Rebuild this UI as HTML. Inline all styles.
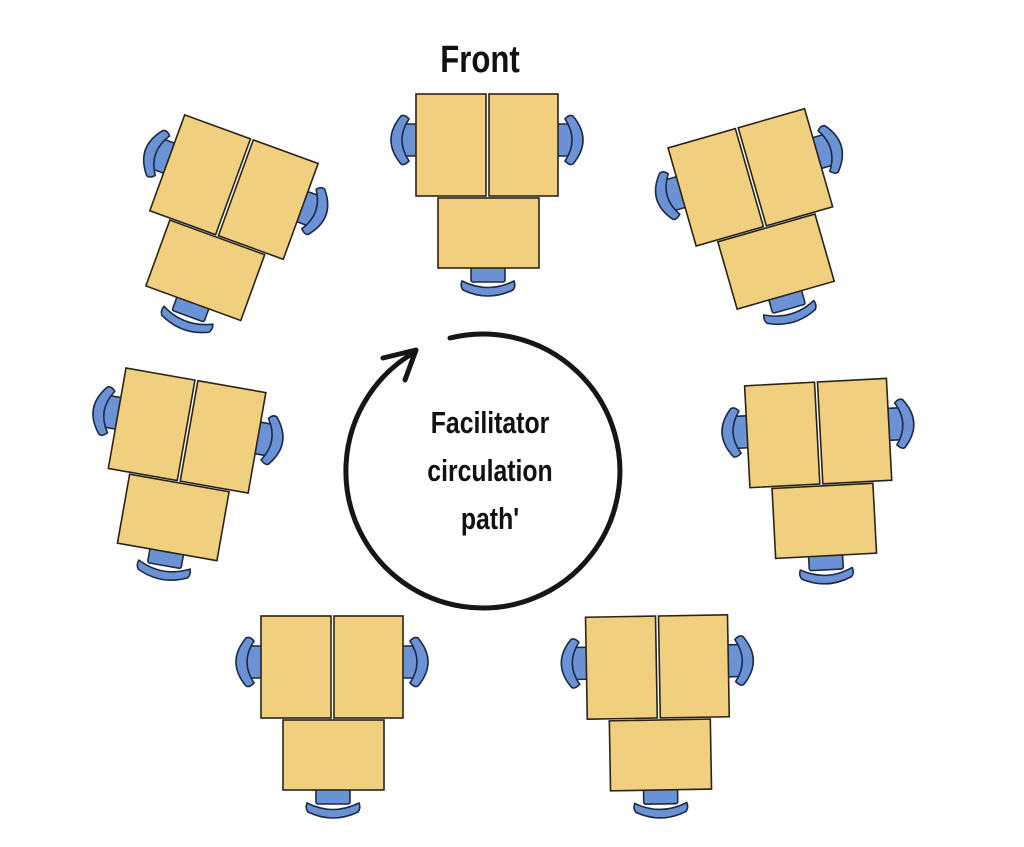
<!DOCTYPE html>
<html><head><meta charset="utf-8"><style>
html,body{margin:0;padding:0;background:#fff;}
svg{display:block;}
text{font-family:"Liberation Sans",sans-serif;font-weight:bold;fill:#111;}
</style></head><body>
<svg width="1024" height="847" viewBox="0 0 1024 847" xmlns="http://www.w3.org/2000/svg">
<defs>
<g id="pod" stroke="#2a2418" stroke-width="1.6">
  <rect x="-88" y="-56" width="19" height="32" rx="2" fill="#6a92d4" stroke="#1c2a48"/>
  <path d="M -86 -64 Q -106 -40 -86 -16 Q -83 -14 -78 -19 Q -92 -40 -78 -61 Q -82 -66 -86 -64 Z" fill="#6a92d4" stroke="#1c2a48"/>
  <rect x="69" y="-56" width="19" height="32" rx="2" fill="#6a92d4" stroke="#1c2a48"/>
  <path d="M 86 -64 Q 106 -40 86 -16 Q 83 -14 78 -19 Q 92 -40 78 -61 Q 82 -66 86 -64 Z" fill="#6a92d4" stroke="#1c2a48"/>
  <rect x="-16" y="86" width="34" height="16" rx="2" fill="#6a92d4" stroke="#1c2a48"/>
  <path d="M -25 101 Q 1 114 27 101 Q 29 106 26 110 Q 1 122 -24 110 Q -27 106 -25 101 Z" fill="#6a92d4" stroke="#1c2a48"/>
  <rect x="-71" y="-86" width="70" height="102" fill="#f0cf7e"/>
  <rect x="2" y="-86" width="69" height="102" fill="#f0cf7e"/>
  <rect x="-49" y="18" width="101" height="70" fill="#f0cf7e"/>
</g>
</defs>
<use href="#pod" transform="translate(487,180)"/>
<use href="#pod" transform="translate(222,220) rotate(20)"/>
<use href="#pod" transform="translate(760,211) rotate(-16)"/>
<use href="#pod" transform="translate(181,465) rotate(10)"/>
<use href="#pod" transform="translate(820,468) rotate(-3)"/>
<use href="#pod" transform="translate(332,702)"/>
<use href="#pod" transform="translate(658,702) rotate(-1)"/>

<text x="480" y="72" text-anchor="middle" font-size="38" transform="translate(480,0) scale(0.82,1) translate(-480,0)">Front</text>

<path d="M 450 338 A 137 137 0 1 1 415 352" fill="none" stroke="#161616" stroke-width="5" stroke-linecap="round"/>
<path d="M 383 358 L 416 350 L 405 380" fill="none" stroke="#161616" stroke-width="5" stroke-linecap="round" stroke-linejoin="round"/>

<g font-size="31" text-anchor="middle" transform="translate(490,0) scale(0.8,1) translate(-490,0)">
<text x="490" y="433">Facilitator</text>
<text x="490" y="481">circulation</text>
<text x="490" y="529">path'</text>
</g>
</svg>
</body></html>
